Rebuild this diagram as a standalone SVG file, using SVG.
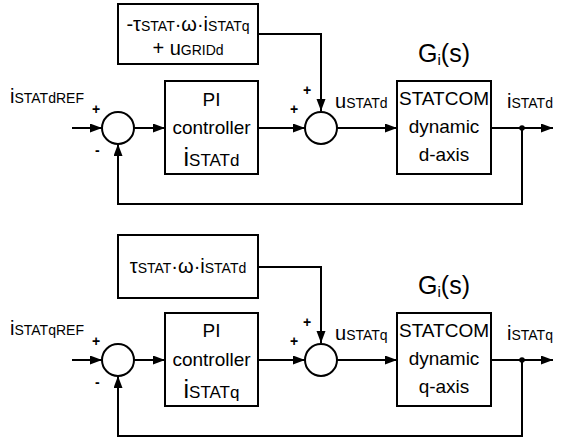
<svg xmlns="http://www.w3.org/2000/svg" width="570" height="441" viewBox="0 0 570 441">
<defs>
<marker id="ah" markerUnits="userSpaceOnUse" markerWidth="14" markerHeight="10" refX="12" refY="4.5" orient="auto">
<path d="M0,0 L12,4.5 L0,9 z" fill="#000"/>
</marker>
<style>
.box{fill:#fff;stroke:#000;stroke-width:2}
.sum{fill:#fff;stroke:#000;stroke-width:2}
.ln{fill:none;stroke:#000;stroke-width:2}
.ar{fill:none;stroke:#000;stroke-width:2;marker-end:url(#ah)}
text{font-family:"Liberation Sans",Arial,sans-serif;fill:#000}
.t{font-size:19px}
.m{font-size:20px}
.s{font-size:14px}
.c{text-anchor:middle}
.sg{font-size:14px;font-weight:bold}
</style>
</defs>
<rect width="570" height="441" fill="#fff"/>

<g id="connectors">
<!-- top -->
<path class="ar" d="M258,34 H321 V111"/>
<path class="ar" d="M72,128 H102"/>
<path class="ar" d="M134,128 H165"/>
<path class="ar" d="M258,128 H305"/>
<path class="ar" d="M337,128 H397"/>
<path class="ar" d="M491,128 H553"/>
<path class="ar" d="M522,128 V204 H118 V144"/>
<circle cx="522" cy="128" r="2.8" fill="#000"/>
<!-- bottom -->
<path class="ar" d="M258,267 H321 V343"/>
<path class="ar" d="M72,360 H102"/>
<path class="ar" d="M134,360 H165"/>
<path class="ar" d="M258,360 H305"/>
<path class="ar" d="M337,360 H397"/>
<path class="ar" d="M491,360 H553"/>
<path class="ar" d="M522,360 V436 H118 V376"/>
<circle cx="522" cy="360" r="2.8" fill="#000"/>
</g>

<!-- TOP LOOP -->
<g id="ff_d">
<rect class="box" x="118" y="4" width="140" height="60"/>
<text class="c" x="188" y="31"><tspan class="m">-τ</tspan><tspan class="s">STAT</tspan><tspan class="m">·ω·i</tspan><tspan class="s">STATq</tspan></text>
<text class="c" x="188" y="55"><tspan class="m">+ u</tspan><tspan class="s">GRIDd</tspan></text>
</g>
<g id="sum1_d">
<circle class="sum" cx="118" cy="128" r="16"/>
<text class="sg" x="92" y="114">+</text>
<text class="sg" x="95" y="155">-</text>
</g>
<g id="ref_d">
<text x="10" y="103"><tspan class="m">i</tspan><tspan class="s">STATdREF</tspan></text>
</g>
<g id="pi_d">
<rect class="box" x="165" y="81" width="93" height="93"/>
<text class="t c" x="211.5" y="106">PI</text>
<text class="t c" x="211.5" y="134">controller</text>
<text class="c" x="211.5" y="166"><tspan font-size="25px">i</tspan><tspan font-size="17px">STATd</tspan></text>
</g>
<g id="sum2_d">
<circle class="sum" cx="321" cy="128" r="16"/>
<text class="sg" x="303" y="95">+</text>
<text class="sg" x="290" y="114">+</text>
</g>
<g id="u_d">
<text x="335" y="108"><tspan class="m">u</tspan><tspan class="s">STATd</tspan></text>
</g>
<g id="plant_d">
<text class="c" x="444" y="62"><tspan font-size="25px">G</tspan><tspan font-size="15px" dy="3">i</tspan><tspan font-size="25px" dy="-3">(s)</tspan></text>
<rect class="box" x="397" y="81" width="94" height="93"/>
<text class="t c" x="444" y="105">STATCOM</text>
<text class="t c" x="444" y="133">dynamic</text>
<text class="t c" x="444" y="161">d-axis</text>
</g>
<g id="out_d">
<text x="507" y="108"><tspan class="m">i</tspan><tspan class="s">STATd</tspan></text>
</g>

<!-- BOTTOM LOOP -->
<g id="ff_q">
<rect class="box" x="118" y="235" width="140" height="63"/>
<text class="c" x="188" y="273"><tspan class="m">τ</tspan><tspan class="s">STAT</tspan><tspan class="m">·ω·i</tspan><tspan class="s">STATd</tspan></text>
</g>
<g id="sum1_q">
<circle class="sum" cx="118" cy="360" r="16"/>
<text class="sg" x="92" y="346">+</text>
<text class="sg" x="95" y="387">-</text>
</g>
<g id="ref_q">
<text x="10" y="335"><tspan class="m">i</tspan><tspan class="s">STATqREF</tspan></text>
</g>
<g id="pi_q">
<rect class="box" x="165" y="313" width="93" height="93"/>
<text class="t c" x="211.5" y="337">PI</text>
<text class="t c" x="211.5" y="366">controller</text>
<text class="c" x="211.5" y="398"><tspan font-size="25px">i</tspan><tspan font-size="17px">STATq</tspan></text>
</g>
<g id="sum2_q">
<circle class="sum" cx="321" cy="360" r="16"/>
<text class="sg" x="303" y="327">+</text>
<text class="sg" x="290" y="346">+</text>
</g>
<g id="u_q">
<text x="335" y="340"><tspan class="m">u</tspan><tspan class="s">STATq</tspan></text>
</g>
<g id="plant_q">
<text class="c" x="444" y="294"><tspan font-size="25px">G</tspan><tspan font-size="15px" dy="3">i</tspan><tspan font-size="25px" dy="-3">(s)</tspan></text>
<rect class="box" x="397" y="313" width="94" height="93"/>
<text class="t c" x="444" y="337">STATCOM</text>
<text class="t c" x="444" y="365">dynamic</text>
<text class="t c" x="444" y="393">q-axis</text>
</g>
<g id="out_q">
<text x="507" y="340"><tspan class="m">i</tspan><tspan class="s">STATq</tspan></text>
</g>
</svg>
